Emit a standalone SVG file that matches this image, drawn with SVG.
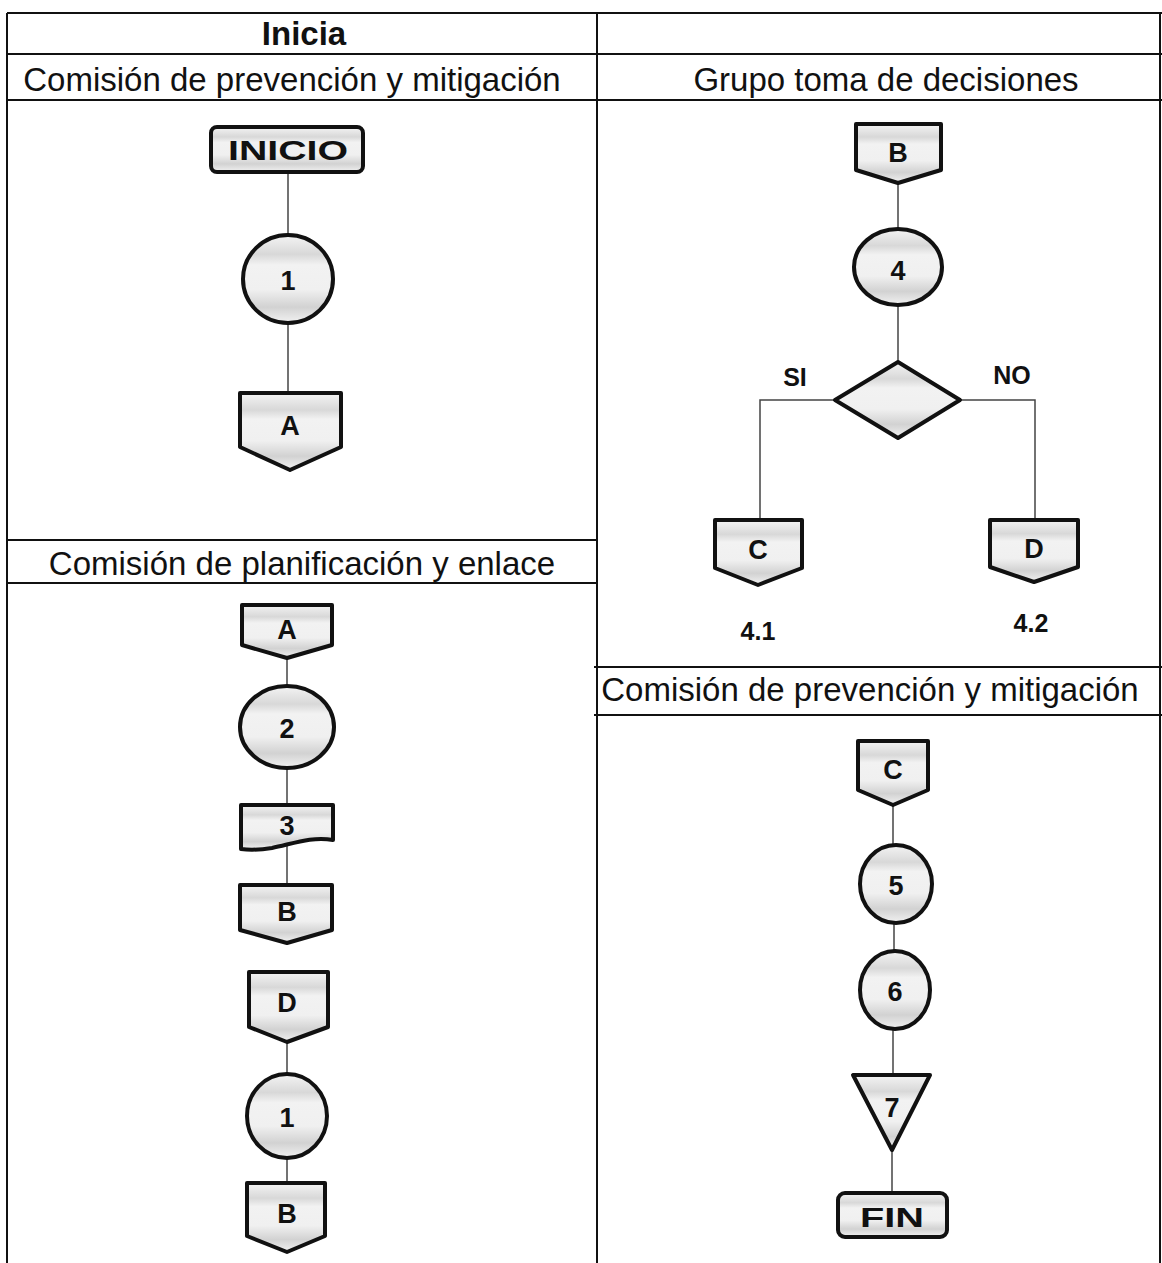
<svg xmlns="http://www.w3.org/2000/svg" width="1162" height="1263" viewBox="0 0 1162 1263">
<defs>
<linearGradient id="tex" x1="0" y1="0" x2="0" y2="1">
<stop offset="0" stop-color="#f4f4f4"/>
<stop offset="0.22" stop-color="#d8d8d8"/>
<stop offset="0.34" stop-color="#f2f2f2"/>
<stop offset="0.62" stop-color="#f0f0f0"/>
<stop offset="0.82" stop-color="#d2d2d2"/>
<stop offset="1" stop-color="#f2f2f2"/>
</linearGradient>
</defs>
<style>
.grid{stroke:#111;stroke-width:2;fill:none}
.hdr{font-family:"Liberation Sans",Arial,sans-serif;font-size:33px;fill:#111;text-anchor:middle}
.shape{fill:url(#tex);stroke:#111;stroke-width:4;stroke-linejoin:round}
.lbl{font-family:"Liberation Sans",Arial,sans-serif;font-weight:bold;font-size:27px;fill:#111;text-anchor:middle}
.side{font-family:"Liberation Sans",Arial,sans-serif;font-weight:bold;font-size:25px;fill:#111;text-anchor:middle}
.conn{stroke:#444;stroke-width:1.5;fill:none}
</style>
<rect width="1162" height="1263" fill="#fff"/>
<g id="table">
<line class="grid" x1="7" y1="13" x2="1162" y2="13"/>
<line class="grid" x1="7" y1="54" x2="1162" y2="54"/>
<line class="grid" x1="7" y1="100" x2="1162" y2="100"/>
<line class="grid" x1="7" y1="540" x2="597" y2="540"/>
<line class="grid" x1="7" y1="583" x2="597" y2="583"/>
<line class="grid" x1="594" y1="667" x2="1162" y2="667"/>
<line class="grid" x1="594" y1="715" x2="1162" y2="715"/>
<line class="grid" x1="7" y1="13" x2="7" y2="1263"/>
<line class="grid" x1="597" y1="13" x2="597" y2="1263"/>
<line class="grid" x1="1160" y1="13" x2="1160" y2="1263"/>
<text class="hdr" x="304" y="45" font-weight="bold" font-size="30">Inicia</text>
<text class="hdr" x="292" y="91">Comisión de prevención y mitigación</text>
<text class="hdr" x="886" y="91">Grupo toma de decisiones</text>
<text class="hdr" x="302" y="575">Comisión de planificación y enlace</text>
<text class="hdr" x="870" y="701">Comisión de prevención y mitigación</text>
</g>
<g id="connectors">
<line class="conn" x1="288" y1="172" x2="288" y2="235"/>
<line class="conn" x1="288" y1="323" x2="288" y2="393"/>
<line class="conn" x1="898" y1="183" x2="898" y2="229"/>
<line class="conn" x1="898" y1="305" x2="898" y2="362"/>
<polyline class="conn" points="835,400 760,400 760,520"/>
<polyline class="conn" points="960,400 1035,400 1035,520"/>
<line class="conn" x1="287" y1="658" x2="287" y2="686"/>
<line class="conn" x1="287" y1="768" x2="287" y2="805"/>
<line class="conn" x1="287" y1="846" x2="287" y2="885"/>
<line class="conn" x1="287" y1="1042" x2="287" y2="1074"/>
<line class="conn" x1="287" y1="1158" x2="287" y2="1183"/>
<line class="conn" x1="893" y1="805" x2="893" y2="845"/>
<line class="conn" x1="894" y1="923" x2="894" y2="951"/>
<line class="conn" x1="893" y1="1029" x2="893" y2="1075"/>
<line class="conn" x1="892" y1="1150" x2="892" y2="1193"/>
</g>
<g id="n-inicio"><rect class="shape" x="211" y="127" width="152" height="45" rx="6"/><text class="lbl" x="288" y="160" font-size="28" textLength="120" lengthAdjust="spacingAndGlyphs">INICIO</text></g>
<g id="n-1a"><ellipse class="shape" cx="288" cy="279" rx="45" ry="44"/><text class="lbl" x="288" y="290">1</text></g>
<g id="n-a1"><path class="shape" d="M240 393H341V447L290 470L240 447Z"/><text class="lbl" x="290" y="435">A</text></g>
<g id="n-b1"><path class="shape" d="M856 124H941V170L898 183L856 170Z"/><text class="lbl" x="898" y="162">B</text></g>
<g id="n-4"><ellipse class="shape" cx="898" cy="267" rx="44" ry="38"/><text class="lbl" x="898" y="280" font-size="32">4</text></g>
<g id="n-dec"><path class="shape" d="M898 362L960 400L898 438L835 400Z"/></g>
<text class="side" x="795" y="386">SI</text>
<text class="side" x="1012" y="384">NO</text>
<g id="n-c1"><path class="shape" d="M715 520H802V568L758 585L715 568Z"/><text class="lbl" x="758" y="559">C</text></g>
<g id="n-d1"><path class="shape" d="M990 520H1078V567L1034 582L990 567Z"/><text class="lbl" x="1034" y="558">D</text></g>
<text class="side" x="758" y="640">4.1</text>
<text class="side" x="1031" y="632">4.2</text>
<g id="n-a2"><path class="shape" d="M242 605H332V645L287 658L242 645Z"/><text class="lbl" x="287" y="639">A</text></g>
<g id="n-2"><ellipse class="shape" cx="287" cy="727" rx="47" ry="41"/><text class="lbl" x="287" y="738">2</text></g>
<g id="n-3"><path class="shape" d="M241 805H333V840C312 836 292 844 272 848C259 850 249 850 241 849Z"/><text class="lbl" x="287" y="835">3</text></g>
<g id="n-b2"><path class="shape" d="M240 885H332V930L287 943L240 930Z"/><text class="lbl" x="287" y="921">B</text></g>
<g id="n-d2"><path class="shape" d="M249 972H328V1027L287 1042L249 1027Z"/><text class="lbl" x="287" y="1012">D</text></g>
<g id="n-1b"><ellipse class="shape" cx="287" cy="1116" rx="40" ry="42"/><text class="lbl" x="287" y="1127">1</text></g>
<g id="n-b3"><path class="shape" d="M247 1183H325V1236L287 1252L247 1236Z"/><text class="lbl" x="287" y="1223">B</text></g>
<g id="n-c2"><path class="shape" d="M858 741H928V790L893 805L858 790Z"/><text class="lbl" x="893" y="779">C</text></g>
<g id="n-5"><ellipse class="shape" cx="896" cy="884" rx="36" ry="39"/><text class="lbl" x="896" y="895" font-size="29">5</text></g>
<g id="n-6"><ellipse class="shape" cx="895" cy="990" rx="35" ry="39"/><text class="lbl" x="895" y="1001" font-size="29">6</text></g>
<g id="n-7"><path class="shape" d="M853 1075H930L892 1150Z"/><text class="lbl" x="892" y="1117">7</text></g>
<g id="n-fin"><rect class="shape" x="838" y="1193" width="109" height="44" rx="7"/><text class="lbl" x="892" y="1227" font-size="31" textLength="64" lengthAdjust="spacingAndGlyphs">FIN</text></g>
</svg>
